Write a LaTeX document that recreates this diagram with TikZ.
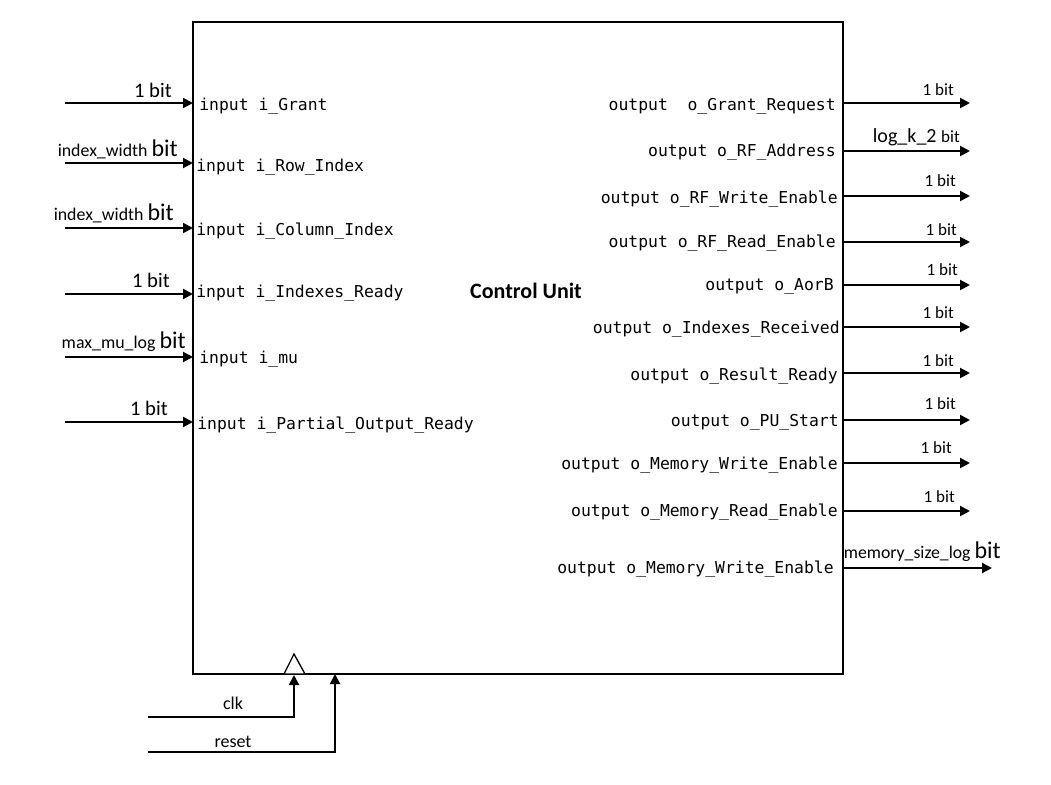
\documentclass[tikz,border=0pt]{standalone}
\usepackage{fontspec}
\setmainfont{Carlito}
\setmonofont{DejaVu Sans Mono}
\usetikzlibrary{arrows.meta}
\begin{document}
\begin{tikzpicture}[x=0.75pt,y=-0.75pt,
  wire/.style={line width=1.5pt,-{Triangle[length=7.5pt,width=7.5pt]}},
  frame/.style={line width=1.5pt},
  mono/.style={font=\ttfamily\fontsize{12.3}{14}\selectfont,inner sep=0pt,yshift=-1.5pt},
  lbl/.style={font=\fontsize{12.8}{14}\selectfont,inner sep=0pt},
  big/.style={font=\fontsize{15.5}{17}\selectfont,inner sep=0pt},
  title/.style={font=\bfseries\fontsize{16.5}{18}\selectfont,inner sep=0pt}]
\useasboundingbox (0,0) rectangle (1051,785);
% main box
\coordinate (boxNW) at (193,22);
\coordinate (boxSE) at (843,674);
\draw[frame] (boxNW) rectangle (boxSE);
\node[title] (cu) at (526,291) {Control Unit};
% inputs
\foreach \n/\y in {a/103,b/163,c/228,d/294,e/357,f/422}{
  \coordinate (in\n s) at (65,\y);
  \coordinate (in\n e) at (193,\y);
  \draw[wire] (in\n s) -- (in\n e);
}
\node[mono,anchor=west] (ta) at (199,104) {input i\_Grant};
\node[mono,anchor=west] (tb) at (196,165) {input i\_Row\_Index};
\node[mono,anchor=west] (tc) at (196,229) {input i\_Column\_Index};
\node[mono,anchor=west] (td) at (196,291) {input i\_Indexes\_Ready};
\node[mono,anchor=west] (te) at (199,357) {input i\_mu};
\node[mono,anchor=west] (tf) at (197,423) {input i\_Partial\_Output\_Ready};
\node[big,anchor=east] (ba) at (172,90) {1 bit};
\node[lbl,anchor=east] (bb) at (178,149) {\fontsize{13.4}{15}\selectfont index\_width \fontsize{18}{20}\selectfont bit};
\node[lbl,anchor=east] (bc) at (174,213) {\fontsize{13.4}{15}\selectfont index\_width \fontsize{18}{20}\selectfont bit};
\node[big,anchor=east] (bd) at (170,280) {1 bit};
\node[lbl,anchor=east] (be) at (186,342) {\fontsize{13.4}{15}\selectfont max\_mu\_log \fontsize{18}{20}\selectfont bit};
\node[big,anchor=east] (bf) at (168,408) {1 bit};
% outputs
\foreach \n/\y/\x in {a/103/970,b/151/970,c/196/970,d/242/970,e/285/970,f/327/970,g/373/970,h/420/970,i/463/970,j/511/970,k/568/992}{
  \coordinate (out\n s) at (843,\y);
  \coordinate (out\n e) at (\x,\y);
  \draw[wire] (out\n s) -- (out\n e);
}
\node[mono,anchor=east] (oa) at (836,104) {output\ \ o\_Grant\_Request};
\node[mono,anchor=east] (ob) at (836,150) {output o\_RF\_Address};
\node[mono,anchor=east] (oc) at (838,197) {output o\_RF\_Write\_Enable};
\node[mono,anchor=east] (od) at (836,241) {output o\_RF\_Read\_Enable};
\node[mono,anchor=east] (oe) at (834,284) {output o\_AorB};
\node[mono,anchor=east] (of) at (840,327) {output o\_Indexes\_Received};
\node[mono,anchor=east] (og) at (838,374) {output o\_Result\_Ready};
\node[mono,anchor=east] (oh) at (839,420) {output o\_PU\_Start};
\node[mono,anchor=east] (oi) at (838,463) {output o\_Memory\_Write\_Enable};
\node[mono,anchor=east] (oj) at (838,510) {output o\_Memory\_Read\_Enable};
\node[mono,anchor=east] (ok) at (834,567) {output o\_Memory\_Write\_Enable};
\node[lbl,anchor=east] (la) at (954,90) {1 bit};
\node[lbl,anchor=east] (lb) at (960,137) {\fontsize{15}{17}\selectfont log\_k\_2 \fontsize{12.8}{14}\selectfont bit};
\node[lbl,anchor=east] (lc) at (956,181) {1 bit};
\node[lbl,anchor=east] (ld) at (957,230) {1 bit};
\node[lbl,anchor=east] (le) at (958,270) {1 bit};
\node[lbl,anchor=east] (lf) at (954,313) {1 bit};
\node[lbl,anchor=east] (lg) at (954,361) {1 bit};
\node[lbl,anchor=east] (lh) at (956,404) {1 bit};
\node[lbl,anchor=east] (li) at (952,448) {1 bit};
\node[lbl,anchor=east] (lj) at (955,497) {1 bit};
\node[lbl,anchor=east] (lk) at (1001,552) {\fontsize{13.3}{15}\selectfont memory\_size\_log \fontsize{18}{20}\selectfont bit};
% clock and reset
\draw[line width=1pt,fill=white] (284,674) -- (294,654) -- (305,674) -- cycle;
\coordinate (clks) at (148,717);
\coordinate (clkc) at (294,717);
\coordinate (clke) at (294,675);
\coordinate (rsts) at (148,752);
\coordinate (rstc) at (335,752);
\coordinate (rste) at (335,674);
\draw[wire] (clks) -- (clkc) -- (clke);
\draw[wire] (rsts) -- (rstc) -- (rste);
\node[lbl,font=\fontsize{13.5}{15}\selectfont] (clk) at (233,703) {clk};
\node[lbl,font=\fontsize{13.5}{15}\selectfont] (rst) at (233,742) {reset};
\end{tikzpicture}
\end{document}
